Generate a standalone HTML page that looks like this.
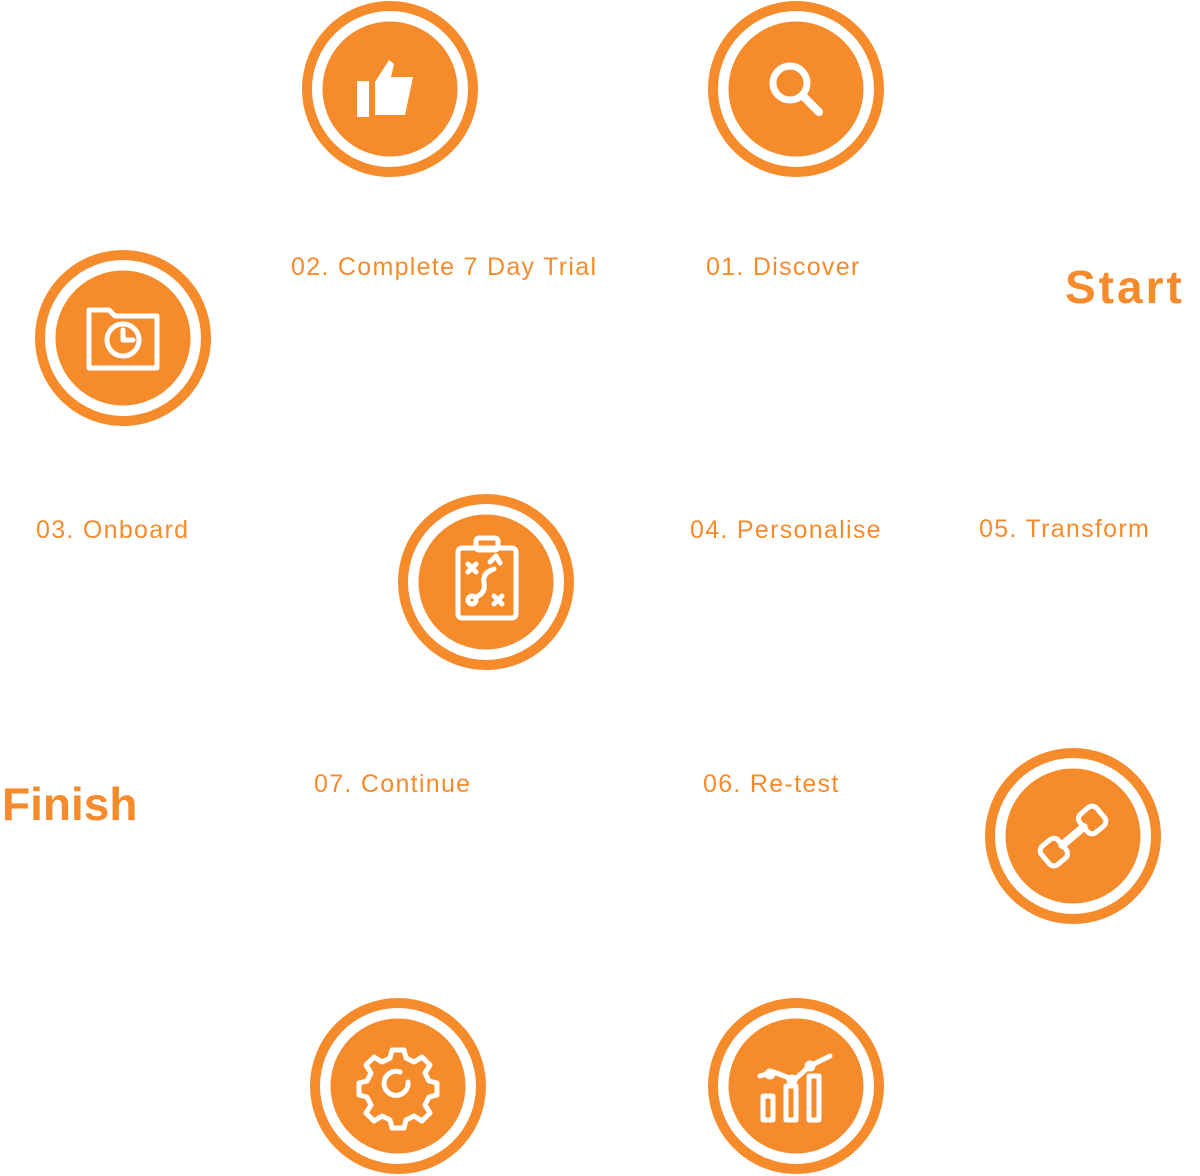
<!DOCTYPE html>
<html><head><meta charset="utf-8"><style>
html,body{margin:0;padding:0;background:#fff;}
body{width:1200px;height:1176px;position:relative;overflow:hidden;font-family:"Liberation Sans",sans-serif;}
.t{position:absolute;color:#F68B2C;font-size:25px;white-space:nowrap;letter-spacing:1.3px;line-height:1;}
.b{font-size:46px;font-weight:bold;letter-spacing:0;}
svg{position:absolute;left:0;top:0;}
</style></head><body>
<svg width="1200" height="1176" viewBox="0 0 1200 1176">
<defs>
<g id="c"><circle r="83" fill="none" stroke="#F68B2C" stroke-width="10"/><circle r="70" fill="#F68B2C"/></g>
</defs>
<g fill="none" stroke="#fff" stroke-width="5" stroke-linecap="round" stroke-linejoin="round">
<g transform="translate(390,89)"><use href="#c"/>
 <path d="M-33,-8 h12 v36 h-12z" fill="#fff" stroke="none"/>
 <path d="M-15,-7 l14,-22 l5,4 l-3,13 h22 l-8,38 h-30z" fill="#fff" stroke="none"/></g>
<g transform="translate(796,89)"><use href="#c"/>
 <circle cx="-6" cy="-6" r="17" stroke-width="7"/><path d="M7,7 l16,16" stroke-width="8"/></g>
<g transform="translate(123,338)"><use href="#c"/>
 <path d="M-34,-28 h20 l6,6 h42 v52 h-68z"/><circle cx="0" cy="2" r="16"/><path d="M0,-8 v10 h10"/></g>
<g transform="translate(486,582)"><use href="#c"/>
 <rect x="-28" y="-34" width="58" height="70" rx="4"/><rect x="-10" y="-44" width="22" height="12" rx="3"/>
 <path d="M-18,-18 l8,8 M-10,-18 l-8,8 M8,14 l8,8 M16,14 l-8,8"/><circle cx="-14" cy="18" r="4"/>
 <path d="M-10,15 q10,-4 8,-14 q-2,-10 10,-14 M4,-20 l6,-6 l4,7"/></g>
<g transform="translate(1073,836)"><use href="#c"/>
 <g transform="rotate(-40)"><rect x="-36" y="-12" width="22" height="24" rx="6"/><rect x="14" y="-12" width="22" height="24" rx="6"/><path d="M-14,0 h28" stroke-width="8"/></g></g>
<g transform="translate(398,1086)"><use href="#c"/>
 <path d="M-6,-36 h12 l2,8 l8,4 l8,-5 l8,8 l-5,8 l4,8 l8,2 v12 l-8,2 l-4,8 l5,8 l-8,8 l-8,-5 l-8,4 l-2,8 h-12 l-2,-8 l-8,-4 l-8,5 l-8,-8 l5,-8 l-4,-8 l-8,-2 v-12 l8,-2 l4,-8 l-5,-8 l8,-8 l8,5 l8,-4z"/>
 <path d="M10,-4 a12,12 0 1,1 -8,-10"/></g>
<g transform="translate(796,1086)"><use href="#c"/>
 <rect x="-33" y="10" width="10" height="24"/><rect x="-10" y="0" width="10" height="34"/><rect x="13" y="-10" width="10" height="44"/>
 <path d="M-36,-10 l14,-4 l20,8 l16,-14 l20,-10"/><circle cx="-26" cy="-12" r="3"/><circle cx="-4" cy="-6" r="3"/><circle cx="14" cy="-20" r="3"/></g>
</g>
</svg>
<div class="t" style="left:291px;top:255px">02. Complete 7 Day Trial</div>
<div class="t" style="left:706px;top:255px">01. Discover</div>
<div class="t b" style="left:1065px;top:264px;letter-spacing:3px">Start</div>
<div class="t" style="left:36px;top:518px">03. Onboard</div>
<div class="t" style="left:690px;top:518px">04. Personalise</div>
<div class="t" style="left:979px;top:517px">05. Transform</div>
<div class="t b" style="left:2px;top:781px">Finish</div>
<div class="t" style="left:314px;top:772px">07. Continue</div>
<div class="t" style="left:703px;top:772px">06. Re-test</div>
</body></html>
